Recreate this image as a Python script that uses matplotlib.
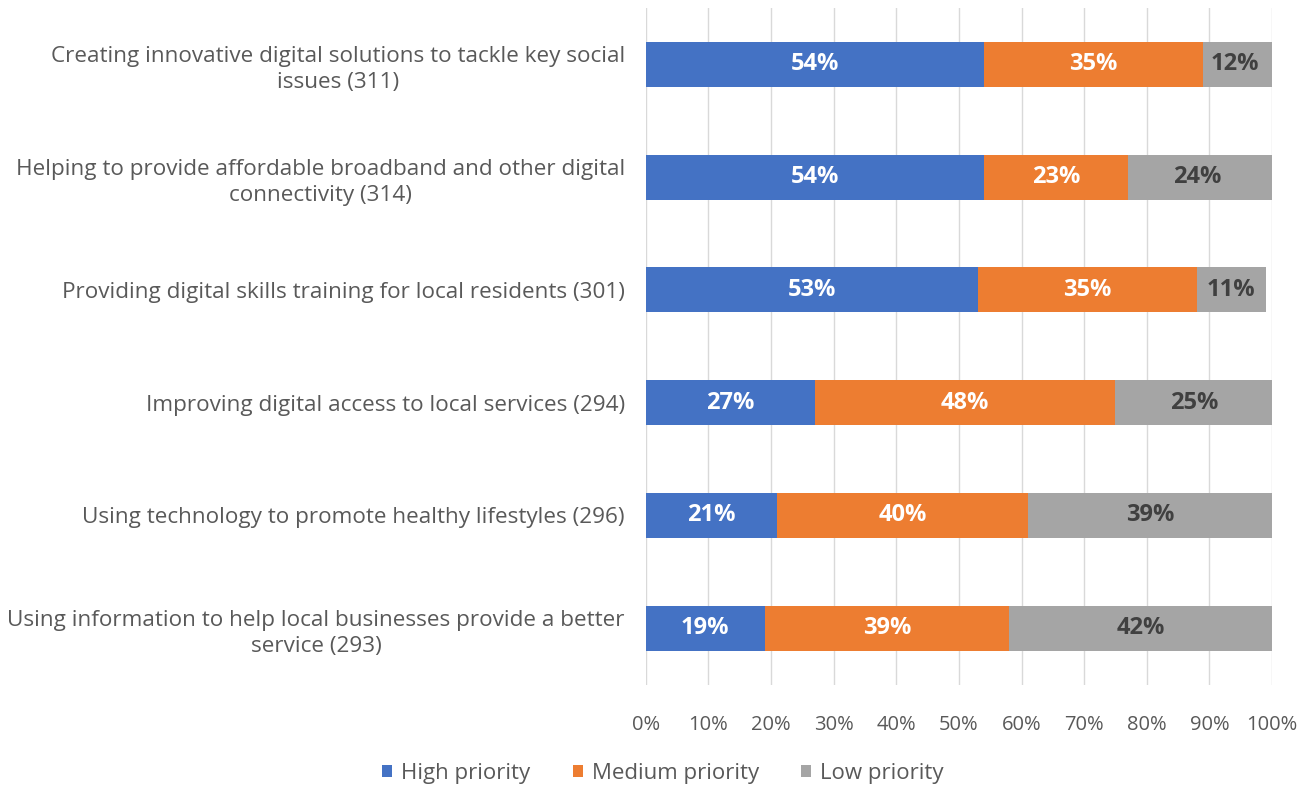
import matplotlib.pyplot as plt
import numpy as np

plt.rcParams['font.family'] = ['Open Sans', 'DejaVu Sans']

categories = [
    "Creating innovative digital solutions to tackle key social\nissues (311)",
    "Helping to provide affordable broadband and other digital\nconnectivity (314)",
    "Providing digital skills training for local residents (301)",
    "Improving digital access to local services (294)",
    "Using technology to promote healthy lifestyles (296)",
    "Using information to help local businesses provide a better\nservice (293)",
]
high = [54, 54, 53, 27, 21, 19]
medium = [35, 23, 35, 48, 40, 39]
low = [12, 24, 11, 25, 39, 42]
series_names = ["High priority", "Medium priority", "Low priority"]
colors = ["#4472C4", "#ED7D31", "#A5A5A5"]
text_colors = ["white", "white", "#404040"]

fig = plt.figure(figsize=(13.1, 7.87), dpi=100)
ax = fig.add_axes([0.493, 0.130, 0.478, 0.860])

y = np.arange(len(categories))
left = np.zeros(len(categories))
for vals, name, c, tc in zip([high, medium, low], series_names, colors, text_colors):
    vals = np.array(vals, dtype=float)
    bars = ax.barh(y, vals, left=left, height=0.4, color=c, label=name, zorder=3)
    for b, v in zip(bars, vals):
        cx = b.get_x() + b.get_width() / 2
        cx = min(cx, 100 - v / 2) if b.get_x() + v > 100 else cx
        ax.text(cx, b.get_y() + b.get_height() / 2, f"{int(v)}%", ha='center', va='center',
                color=tc, fontsize=17, fontweight='bold', zorder=4)
    left += vals

ax.set_xlim(0, 100)
ax.set_ylim(5.5, -0.5)
ax.set_yticks(y)
ax.set_yticklabels(categories, fontsize=16.2, color='#595959', ha='right',
                   multialignment='center', linespacing=1.35)
ax.tick_params(axis='y', length=0, pad=15)
ax.set_xticks(np.arange(0, 101, 10))
ax.set_xticklabels([f"{t}%" for t in range(0, 101, 10)], fontsize=14.5, color='#595959')
ax.tick_params(axis='x', length=0, pad=22)
ax.grid(axis='x', color='#D9D9D9', linewidth=1, zorder=0)
for s in ax.spines.values():
    s.set_visible(False)

handles, labels = ax.get_legend_handles_labels()
fig.legend(handles, labels, loc='center', bbox_to_anchor=(0.506, 0.017), ncol=3, frameon=False,
           fontsize=16, labelcolor='#595959', handlelength=0.45, handleheight=0.45,
           handletextpad=0.4, columnspacing=1.9)

fig.savefig("out.png", dpi=100)
